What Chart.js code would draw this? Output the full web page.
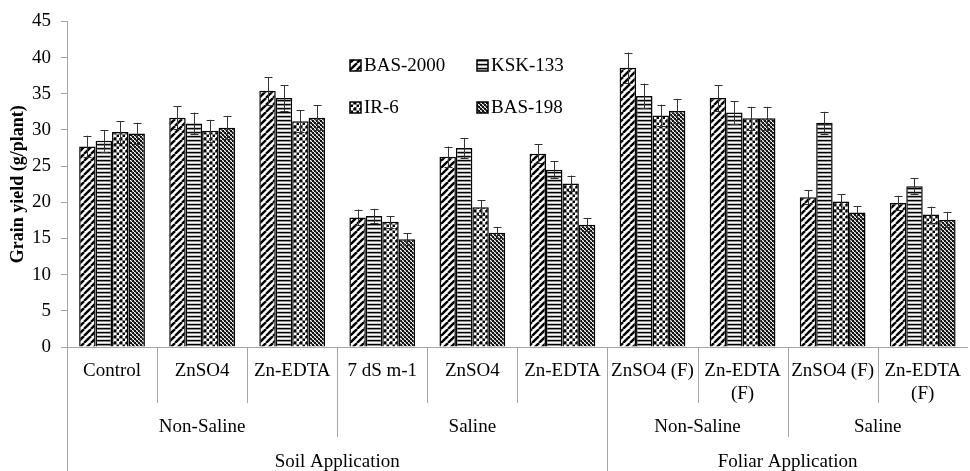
<!DOCTYPE html>
<html>
<head>
<meta charset="utf-8">
<script src="https://cdn.jsdelivr.net/npm/chart.js@4.4.1/dist/chart.umd.min.js"></script>
<style>
  html, body { margin: 0; padding: 0; overflow: hidden; background: #fff; width: 970px; height: 471px; }
  canvas { display: block; }
</style>
</head>
<body>
<canvas id="yieldChart" width="974" height="471" style="width:974px;height:471px"></canvas>
<script>
// Treatments (first level of the category axis)
const treatments = ['Control', 'ZnSO4', 'Zn-EDTA', '7 dS m-1', 'ZnSO4', 'Zn-EDTA',
  'ZnSO4 (F)', ['Zn-EDTA', '(F)'], 'ZnSO4 (F)', ['Zn-EDTA', '(F)']];
// Salinity level (second level) and how many treatments each spans
const salinityLabels = ['Non-Saline', 'Saline', 'Non-Saline', 'Saline'];
const salinitySpans = [3, 3, 2, 2];
// Application method (third level)
const applicationLabels = ['Soil Application', 'Foliar Application'];
const applicationSpans = [6, 4];

const varieties = ['BAS-2000', 'KSK-133', 'IR-6', 'BAS-198'];

// Grain yield (g/plant)
const bas2000 = [27.7, 31.7, 35.4, 17.9, 26.3, 26.7, 38.6, 34.4, 20.7, 19.9];
const ksk133  = [28.5, 30.9, 34.4, 18.1, 27.5, 24.5, 34.7, 32.4, 31.0, 22.2];
const ir6     = [29.7, 29.9, 31.2, 17.3, 19.3, 22.6, 32.0, 31.6, 20.1, 18.3];
const bas198  = [29.5, 30.3, 31.7, 14.9, 15.8, 16.9, 32.6, 31.6, 18.6, 17.6];

// Standard errors
const bas2000Err = [1.5, 1.6, 1.9, 1.1, 1.4, 1.3, 2.1, 1.8, 1.0, 1.0];
const ksk133Err  = [1.5, 1.5, 1.8, 1.0, 1.4, 1.2, 1.7, 1.6, 1.5, 1.1];
const ir6Err     = [1.5, 1.5, 1.5, 0.8, 1.0, 1.1, 1.5, 1.6, 1.0, 1.1];
const bas198Err  = [1.5, 1.6, 1.7, 0.8, 0.8, 0.9, 1.7, 1.6, 0.9, 1.0];

const yTicks = [0, 5, 10, 15, 20, 25, 30, 35, 40, 45];

const FONT = "'Liberation Serif', 'Times New Roman', serif";
const AXIS_GREY = '#a6a6a6';

// ---- fill patterns ----
function makeTile(w, h, paint) {
  const c = document.createElement('canvas');
  c.width = w; c.height = h;
  const g = c.getContext('2d');
  paint(g, w, h);
  return g.createPattern(c, 'repeat');
}
// wide upward diagonal
const diagPattern = makeTile(7, 7, (g, s) => {
  g.fillStyle = '#fff'; g.fillRect(0, 0, s, s);
  g.strokeStyle = '#000'; g.lineWidth = 2.4;
  for (const o of [-s, 0, s]) {
    g.beginPath(); g.moveTo(o, s); g.lineTo(o + s, 0); g.stroke();
  }
});
// horizontal rules
const horizPattern = makeTile(4, 4, (g, w) => {
  g.fillStyle = '#fff'; g.fillRect(0, 0, w, 4);
  g.fillStyle = '#000'; g.fillRect(0, 0, w, 1);
  g.fillStyle = '#8c8c8c'; g.fillRect(0, 1, w, 1);
  g.fillStyle = '#c8c8c8'; g.fillRect(0, 3, w, 1);
});
// plaid
const plaidPattern = makeTile(6, 6, (g, s) => {
  g.fillStyle = '#fff'; g.fillRect(0, 0, s, s);
  g.fillStyle = '#8a8a8a'; g.fillRect(2, 0, 1, s); g.fillRect(0, 2, s, 1);
  g.fillStyle = '#000'; g.fillRect(0, 0, 2, 2); g.fillRect(3, 3, 2, 2);
  g.fillStyle = '#444'; g.fillRect(5, 0, 1, 2); g.fillRect(0, 5, 2, 1);
});
// small checks
const checkPattern = makeTile(4, 4, (g, s) => {
  g.fillStyle = '#fff'; g.fillRect(0, 0, s, s);
  g.fillStyle = '#111'; g.fillRect(0, 0, 2, 2); g.fillRect(2, 2, 2, 2);
  g.fillStyle = '#7a7a7a'; g.fillRect(1, 2, 1, 1); g.fillRect(3, 0, 1, 1);
  g.fillRect(2, 1, 1, 1); g.fillRect(0, 3, 1, 1);
});

const seriesValues = [bas2000, ksk133, ir6, bas198];
const seriesErrors = [bas2000Err, ksk133Err, ir6Err, bas198Err];
const seriesFills = [diagPattern, horizPattern, plaidPattern, checkPattern];

// ---- error bars ----
const errorBars = {
  id: 'errorBars',
  afterDatasetsDraw(chart) {
    const ctx = chart.ctx, y = chart.scales.y;
    ctx.save();
    ctx.strokeStyle = '#333';
    ctx.lineWidth = 1;
    chart.data.datasets.forEach((ds, i) => {
      const meta = chart.getDatasetMeta(i);
      meta.data.forEach((bar, j) => {
        const v = ds.data[j], e = seriesErrors[i][j];
        const x = Math.round(bar.x) + 0.5;
        const yt = y.getPixelForValue(v + e), yb = y.getPixelForValue(v - e);
        ctx.beginPath();
        ctx.moveTo(x, yt); ctx.lineTo(x, yb);
        ctx.moveTo(x - 4, Math.round(yt) + 0.5); ctx.lineTo(x + 4, Math.round(yt) + 0.5);
        ctx.moveTo(x - 4, Math.round(yb) + 0.5); ctx.lineTo(x + 4, Math.round(yb) + 0.5);
        ctx.stroke();
      });
    });
    ctx.restore();
  }
};

// ---- multi-level category axis and legend ----
const axisGroups = {
  id: 'axisGroups',
  afterDraw(chart) {
    const ctx = chart.ctx, x = chart.scales.x, area = chart.chartArea;
    const step = x.getPixelForValue(1) - x.getPixelForValue(0);
    const edge = k => x.getPixelForValue(0) - step / 2 + k * step;
    const H = chart.height;

    const salBounds = new Set(); let acc = 0;
    salinitySpans.forEach(s => { acc += s; salBounds.add(acc); });
    const appBounds = new Set(); acc = 0;
    applicationSpans.forEach(s => { acc += s; appBounds.add(acc); });

    ctx.save();
    ctx.strokeStyle = AXIS_GREY; ctx.lineWidth = 1;
    // left axis line continues down through the label rows
    ctx.beginPath();
    ctx.moveTo(Math.round(area.left) + 0.5, area.bottom);
    ctx.lineTo(Math.round(area.left) + 0.5, H);
    for (let k = 1; k < treatments.length; k++) {
      const px = Math.round(edge(k)) + 0.5;
      let end = area.bottom + 56;
      if (appBounds.has(k)) end = H;
      else if (salBounds.has(k)) end = area.bottom + 90;
      ctx.moveTo(px, area.bottom); ctx.lineTo(px, end);
    }
    ctx.stroke();

    ctx.fillStyle = '#000';
    ctx.font = '19px ' + FONT;
    ctx.textAlign = 'center'; ctx.textBaseline = 'middle';
    let start = 0;
    salinityLabels.forEach((lab, i) => {
      const cx = (edge(start) + edge(start + salinitySpans[i])) / 2;
      ctx.fillText(lab, cx, area.bottom + 80);
      start += salinitySpans[i];
    });
    start = 0;
    applicationLabels.forEach((lab, i) => {
      const cx = (edge(start) + edge(start + applicationSpans[i])) / 2;
      ctx.fillText(lab, cx, area.bottom + 115);
      start += applicationSpans[i];
    });

    // legend: two columns, two rows inside the plot
    const cols = [350, 477], rows = [65, 107];
    ctx.textAlign = 'left';
    chart.data.datasets.forEach((ds, i) => {
      const bx = cols[i % 2], by = rows[Math.floor(i / 2)];
      ctx.fillStyle = ds.backgroundColor;
      ctx.fillRect(bx, by - 5, 11, 11);
      ctx.strokeStyle = '#000'; ctx.lineWidth = 1.5;
      ctx.strokeRect(bx, by - 5, 11, 11);
      ctx.fillStyle = '#000';
      ctx.fillText(ds.label, bx + 14, by + 1);
    });
    ctx.restore();
  }
};

new Chart(document.getElementById('yieldChart'), {
  type: 'bar',
  data: {
    labels: treatments,
    datasets: varieties.map((name, i) => ({
      label: name,
      data: seriesValues[i],
      backgroundColor: seriesFills[i],
      borderColor: '#000',
      borderWidth: 1.5,
      categoryPercentage: 0.73,
      barPercentage: 1.0
    }))
  },
  options: {
    responsive: false,
    animation: false,
    devicePixelRatio: 1,
    layout: { padding: { top: 21, right: 0, bottom: 0, left: 0 } },
    plugins: { legend: { display: false }, tooltip: { enabled: false } },
    scales: {
      x: {
        afterFit: s => { s.height = 124; },
        grid: { display: false, drawTicks: false },
        border: { display: true, color: AXIS_GREY, width: 1 },
        ticks: { color: '#000', font: { family: FONT, size: 19 }, padding: 13,
                 maxRotation: 0, minRotation: 0, autoSkip: false }
      },
      y: {
        min: 0, max: 45,
        afterFit: s => { s.width = 67; },
        afterBuildTicks: s => { s.ticks = yTicks.map(v => ({ value: v })); },
        grid: { drawOnChartArea: false, drawTicks: true, tickLength: 6, color: AXIS_GREY },
        border: { display: true, color: AXIS_GREY, width: 1 },
        ticks: { color: '#000', font: { family: FONT, size: 19 }, padding: 10 },
        title: { display: true, text: 'Grain yield (g/plant)', color: '#000',
                 font: { family: FONT, size: 18, weight: 'bold' }, padding: { top: 8, bottom: 0 } }
      }
    }
  },
  plugins: [errorBars, axisGroups]
});
</script>
</body>
</html>
